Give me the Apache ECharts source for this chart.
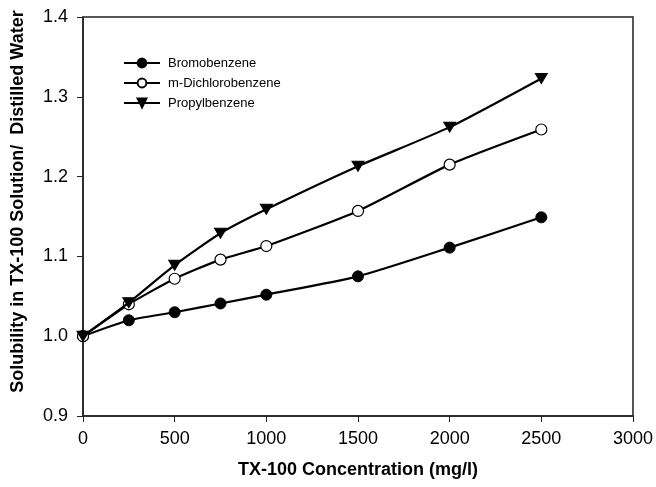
<!DOCTYPE html>
<html>
<head>
<meta charset="UTF-8">
<script src="https://cdn.jsdelivr.net/npm/echarts@6/dist/echarts.min.js"></script>
<style>
  html, body { margin: 0; padding: 0; background: #fff; }
  #main { width: 656px; height: 487px; }
</style>
</head>
<body>
<div id="main"></div>
<script>
// TX-100 concentration (mg/l)
var conc = [0, 250, 500, 750, 1000, 1500, 2000, 2500];
// solubility ratio readings
var bromo = [1.0, 1.020, 1.030, 1.041, 1.052, 1.075, 1.111, 1.149];
var dichloro = [1.0, 1.040, 1.072, 1.096, 1.113, 1.157, 1.215, 1.259];
var propyl = [1.0, 1.042, 1.089, 1.129, 1.159, 1.213, 1.262, 1.323];
var xTicks = [0, 500, 1000, 1500, 2000, 2500, 3000];
var yTicks = [0.9, 1.0, 1.1, 1.2, 1.3, 1.4];

function pairs(ys) {
    return conc.map(function (x, i) { return [x, ys[i]]; });
}

var font = 'Liberation Sans, Arial, sans-serif';
var myChart = echarts.init(document.getElementById('main'));

var lineStyle = { color: '#000', width: 2.2 };

var option = {
    animation: false,
    backgroundColor: '#fff',
    grid: {
        left: 83, right: 22, top: 17, bottom: 71,
        show: true, borderColor: '#222', borderWidth: 1.5
    },
    legend: {
        orient: 'vertical',
        left: 123, top: 56.5,
        padding: 0,
        itemWidth: 36, itemHeight: 11,
        itemGap: 7,
        textStyle: { fontFamily: font, fontSize: 13, color: '#000', padding: [0, 0, 0, 3] },
        data: ['Bromobenzene', 'm-Dichlorobenzene', 'Propylbenzene']
    },
    xAxis: {
        type: 'value',
        min: xTicks[0], max: xTicks[xTicks.length - 1], interval: 500,
        name: 'TX-100 Concentration (mg/l)',
        nameLocation: 'middle',
        nameGap: 45,
        nameTextStyle: { fontFamily: font, fontSize: 18, fontWeight: 'bold', color: '#000' },
        axisLine: { lineStyle: { color: '#222', width: 1.5 } },
        axisTick: { inside: false, length: 6, lineStyle: { color: '#222' } },
        axisLabel: {
            margin: 14, fontFamily: font, fontSize: 18, color: '#000',
            formatter: function (v) { return String(v); }
        },
        splitLine: { show: false }
    },
    yAxis: {
        type: 'value',
        min: yTicks[0], max: yTicks[yTicks.length - 1], interval: 0.1,
        name: 'Solubility in TX-100 Solution/  Distilled Water',
        nameLocation: 'middle',
        nameGap: 56,
        nameTextStyle: { fontFamily: font, fontSize: 18, fontWeight: 'bold', color: '#000', padding: [0, 0, 0, 30] },
        axisLine: { lineStyle: { color: '#222', width: 1.5 } },
        axisTick: { inside: false, length: 6, lineStyle: { color: '#222' } },
        axisLabel: {
            margin: 15, fontFamily: font, fontSize: 18, color: '#000',
            formatter: function (v) { return v.toFixed(1); }
        },
        splitLine: { show: false }
    },
    series: [
        {
            name: 'Bromobenzene', type: 'line', data: pairs(bromo),
            smooth: 0.2, symbol: 'circle', symbolSize: 11,
            lineStyle: lineStyle,
            itemStyle: { color: '#000', borderColor: '#000', borderWidth: 1 },
            z: 3
        },
        {
            name: 'm-Dichlorobenzene', type: 'line', data: pairs(dichloro),
            smooth: 0.2, symbol: 'circle', symbolSize: 11,
            lineStyle: lineStyle,
            itemStyle: { color: '#fff', borderColor: '#000', borderWidth: 1.2 },
            z: 4
        },
        {
            name: 'Propylbenzene', type: 'line', data: pairs(propyl),
            smooth: 0.2, symbol: 'triangle', symbolSize: [12, 10], symbolRotate: 180,
            lineStyle: lineStyle,
            itemStyle: { color: '#000', borderColor: '#000', borderWidth: 1 },
            z: 5
        }
    ]
};

myChart.setOption(option);
</script>
</body>
</html>
